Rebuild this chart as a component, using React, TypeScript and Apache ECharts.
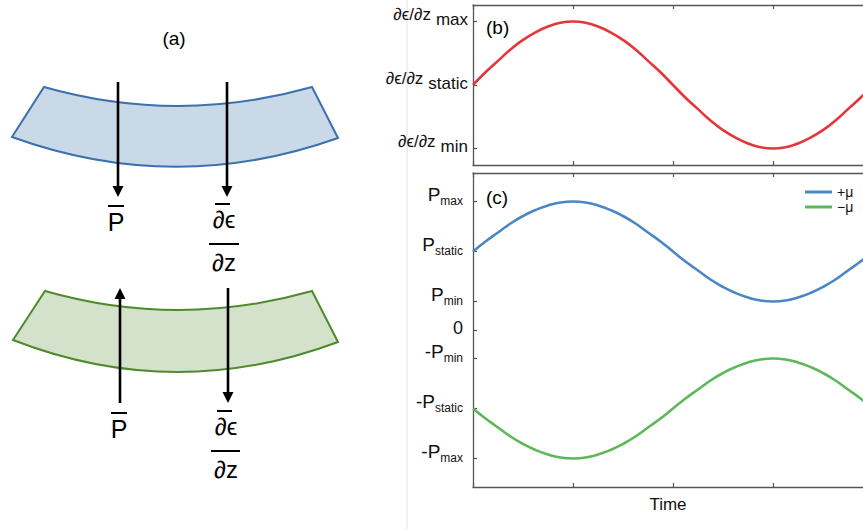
import React, { useEffect, useRef } from "react";
import * as echarts from "echarts";

// ---------- data ----------
const timeTicks = [0, 1, 2, 3];
const timePoints = [
  0, 0.125, 0.25, 0.375, 0.5, 0.625, 0.75, 0.875, 1, 1.125, 1.25, 1.375, 1.5, 1.625, 1.75, 1.875, 2,
  2.125, 2.25, 2.375, 2.5, 2.625, 2.75, 2.875, 3, 3.125, 3.25, 3.375, 3.5, 3.625, 3.75, 3.875, 4,
];
const strainValues = [
  0, 0.2, 0.38, 0.56, 0.71, 0.83, 0.92, 0.98, 1, 0.98, 0.92, 0.83, 0.71, 0.56, 0.38, 0.2, 0,
  -0.2, -0.38, -0.56, -0.71, -0.83, -0.92, -0.98, -1, -0.98, -0.92, -0.83, -0.71, -0.56, -0.38, -0.2, 0,
];
const pressurePlusValues = [
  1.57, 1.77, 1.95, 2.13, 2.28, 2.4, 2.49, 2.55, 2.57, 2.55, 2.49, 2.4, 2.28, 2.13, 1.95, 1.77, 1.57,
  1.37, 1.19, 1.01, 0.86, 0.74, 0.65, 0.59, 0.57, 0.59, 0.65, 0.74, 0.86, 1.01, 1.19, 1.37, 1.57,
];
const pressureMinusValues = [
  -1.57, -1.77, -1.95, -2.13, -2.28, -2.4, -2.49, -2.55, -2.57, -2.55, -2.49, -2.4, -2.28, -2.13, -1.95, -1.77, -1.57,
  -1.37, -1.19, -1.01, -0.86, -0.74, -0.65, -0.59, -0.57, -0.59, -0.65, -0.74, -0.86, -1.01, -1.19, -1.37, -1.57,
];

const strainTickValues = [-1, 0, 1];
const strainTickSubs = ["min", "static", "max"];
const strainSymbol = "∂ϵ/∂z";

const pressureTickValues = [-2.57, -1.57, -0.57, 0, 0.57, 1.57, 2.57];
const pressureTickMain = ["-P", "-P", "-P", "0", "P", "P", "P"];
const pressureTickSubs = ["max", "static", "min", "", "min", "static", "max"];

const seriesNames = ["+μ", "−μ"];
const xAxisName = "Time";
const panelLabels = ["(a)", "(b)", "(c)"];

const FONT = "Liberation Sans, Arial, DejaVu Sans, sans-serif";
const AXIS_COLOR = "#555";

echarts.graphic.registerShape(
  "bandBlue",
  echarts.graphic.extendPath("M44 87 Q178 125 312 87 L338 138 Q175 196 12 137 Z", {})
);
echarts.graphic.registerShape(
  "bandGreen",
  echarts.graphic.extendPath("M45 291 Q178 329 312 291 L338 342 Q175 403 13 340 Z", {})
);

function idxOf(arr: number[], v: number) {
  for (let i = 0; i < arr.length; i++) if (Math.abs(arr[i] - v) < 1e-6) return i;
  return -1;
}

function arrow(x: number, tail: number, tip: number) {
  const dir = tip > tail ? 1 : -1;
  const base = tip - dir * 11;
  return [
    { type: "line", shape: { x1: x, y1: tail, x2: x, y2: base }, style: { stroke: "#000", lineWidth: 2.6 } },
    { type: "polygon", shape: { points: [[x - 5.5, base], [x + 5.5, base], [x, tip]] }, style: { fill: "#000" } },
  ];
}

function txt(text: string, x: number, y: number, size: number, align = "center") {
  return {
    type: "text",
    style: { text, x, y, fontSize: size, fontFamily: FONT, fill: "#000", align, verticalAlign: "middle" },
  };
}

function bar(x1: number, x2: number, y: number, w = 2) {
  return { type: "line", shape: { x1, y1: y, x2, y2: y }, style: { stroke: "#000", lineWidth: w } };
}

export default function App() {
  const ref = useRef<HTMLDivElement>(null);
  useEffect(() => {
    if (!ref.current) return;
    const chart = echarts.init(ref.current, undefined, { renderer: "svg" });
    const axisLine = { show: true, onZero: false, lineStyle: { color: AXIS_COLOR, width: 1.3 } };
    const tick = { show: true, inside: true, length: 4, lineStyle: { color: AXIS_COLOR, width: 1.2 } };
    const xBase = (grid: number, pos: string) => ({
      gridIndex: grid,
      type: "value",
      position: pos,
      min: 0,
      max: 3.9,
      axisLine,
      axisTick: { ...tick, customValues: timeTicks },
      axisLabel: { show: false, customValues: timeTicks },
      splitLine: { show: false },
    });

    const graphics: any[] = [
      { type: "line", shape: { x1: 407, y1: 0, x2: 407, y2: 529 }, style: { stroke: "#e2e2e2", lineWidth: 1 } },
      txt(panelLabels[0], 174, 38, 19),
      { type: "bandBlue", x: 0, y: 0, shape: {}, style: { fill: "#c9d9e8", stroke: "#3b71ad", lineWidth: 2 } },
      { type: "bandGreen", x: 0, y: 0, shape: {}, style: { fill: "#d4e2cc", stroke: "#4f8a2d", lineWidth: 2 } },
      ...arrow(118, 82, 197),
      ...arrow(227, 82, 197),
      ...arrow(120, 403, 288),
      ...arrow(228, 288, 403),
      // upper labels
      txt("P", 116, 222, 25),
      bar(108, 124, 206),
      txt("∂ϵ", 224, 219, 24),
      bar(215, 230, 204),
      bar(209, 239, 244),
      txt("∂z", 224, 262, 24),
      // lower labels
      txt("P", 119, 429, 25),
      bar(111, 127, 413),
      txt("∂ϵ", 226, 426, 24),
      bar(217, 232, 411),
      bar(211, 240, 451),
      txt("∂z", 226, 469, 24),
      // panel letters
      txt(panelLabels[1], 486, 27, 19, "left"),
      txt(panelLabels[2], 486, 197, 19, "left"),
    ];

    const mk = (vals: number[]) => timePoints.map((t, i) => [t, vals[i]]);
    const legendBase = {
      left: 805,
      orient: "vertical",
      padding: 0,
      icon: "rect",
      itemWidth: 27,
      itemHeight: 3,
      itemGap: 0,
      itemTextGap: 7,
      textStyle: { fontSize: 14, fontFamily: FONT, color: "#111", lineHeight: 14 },
    };

    chart.setOption({
      animation: false,
      backgroundColor: "#fff",
      grid: [
        { left: 473, top: 5, right: 0, height: 160, show: false },
        { left: 473, top: 173, right: 0, height: 314, show: false },
      ],
      xAxis: [
        xBase(0, "bottom"),
        xBase(0, "top"),
        {
          ...xBase(1, "bottom"),
          name: xAxisName,
          nameLocation: "middle",
          nameGap: 9,
          nameTextStyle: { fontSize: 17, fontFamily: FONT, color: "#111" },
        },
        xBase(1, "top"),
      ],
      yAxis: [
        {
          gridIndex: 0,
          type: "value",
          min: -1.26,
          max: 1.26,
          axisLine,
          axisTick: { ...tick, customValues: strainTickValues },
          splitLine: { show: false },
          axisLabel: {
            customValues: strainTickValues,
            margin: 5,
            padding: [0, 0, 12, 0],
            formatter: (v: number) => {
              const i = idxOf(strainTickValues, v);
              return i < 0 ? "" : `{d|${strainSymbol}}{s|${strainTickSubs[i]}}`;
            },
            rich: {
              d: { fontSize: 17, fontFamily: FONT, color: "#111", verticalAlign: "top", lineHeight: 19 },
              s: { fontSize: 17, fontFamily: FONT, color: "#111", verticalAlign: "top", lineHeight: 17, padding: [5, 0, 0, 5] },
            },
          },
        },
        {
          gridIndex: 1,
          type: "value",
          min: -3.14,
          max: 3.14,
          axisLine,
          axisTick: { ...tick, customValues: pressureTickValues },
          splitLine: { show: false },
          axisLabel: {
            customValues: pressureTickValues,
            margin: 10,
            padding: [0, 0, 14, 0],
            formatter: (v: number) => {
              const i = idxOf(pressureTickValues, v);
              if (i < 0) return "";
              return pressureTickSubs[i]
                ? `{p|${pressureTickMain[i]}}{s|${pressureTickSubs[i]}}`
                : `{z|${pressureTickMain[i]}}`;
            },
            rich: {
              p: { fontSize: 19, fontFamily: FONT, color: "#111", verticalAlign: "top", lineHeight: 20 },
              s: { fontSize: 12, fontFamily: FONT, color: "#111", verticalAlign: "top", lineHeight: 12, padding: [10, 0, 0, 0] },
              z: { fontSize: 18, fontFamily: FONT, color: "#111", verticalAlign: "top", lineHeight: 20, padding: [6, 0, 0, 0] },
            },
          },
        },
      ],
      legend: [
        { ...legendBase, data: [seriesNames[0]], top: 185 },
        { ...legendBase, data: [seriesNames[1]], top: 200 },
      ],
      series: [
        {
          type: "line",
          xAxisIndex: 0,
          yAxisIndex: 0,
          data: mk(strainValues),
          smooth: true,
          showSymbol: false,
          lineStyle: { color: "#e5363a", width: 2.6 },
          itemStyle: { color: "#e5363a" },
        },
        {
          name: seriesNames[0],
          type: "line",
          xAxisIndex: 2,
          yAxisIndex: 1,
          data: mk(pressurePlusValues),
          smooth: true,
          showSymbol: false,
          lineStyle: { color: "#4a87c4", width: 2.6 },
          itemStyle: { color: "#4a87c4" },
        },
        {
          name: seriesNames[1],
          type: "line",
          xAxisIndex: 2,
          yAxisIndex: 1,
          data: mk(pressureMinusValues),
          smooth: true,
          showSymbol: false,
          lineStyle: { color: "#5db85a", width: 2.6 },
          itemStyle: { color: "#5db85a" },
        },
      ],
      graphic: { elements: graphics },
    });
    return () => chart.dispose();
  }, []);
  return <div ref={ref} style={{ position: "absolute", left: 0, top: 0, width: 863, height: 529 }} />;
}
